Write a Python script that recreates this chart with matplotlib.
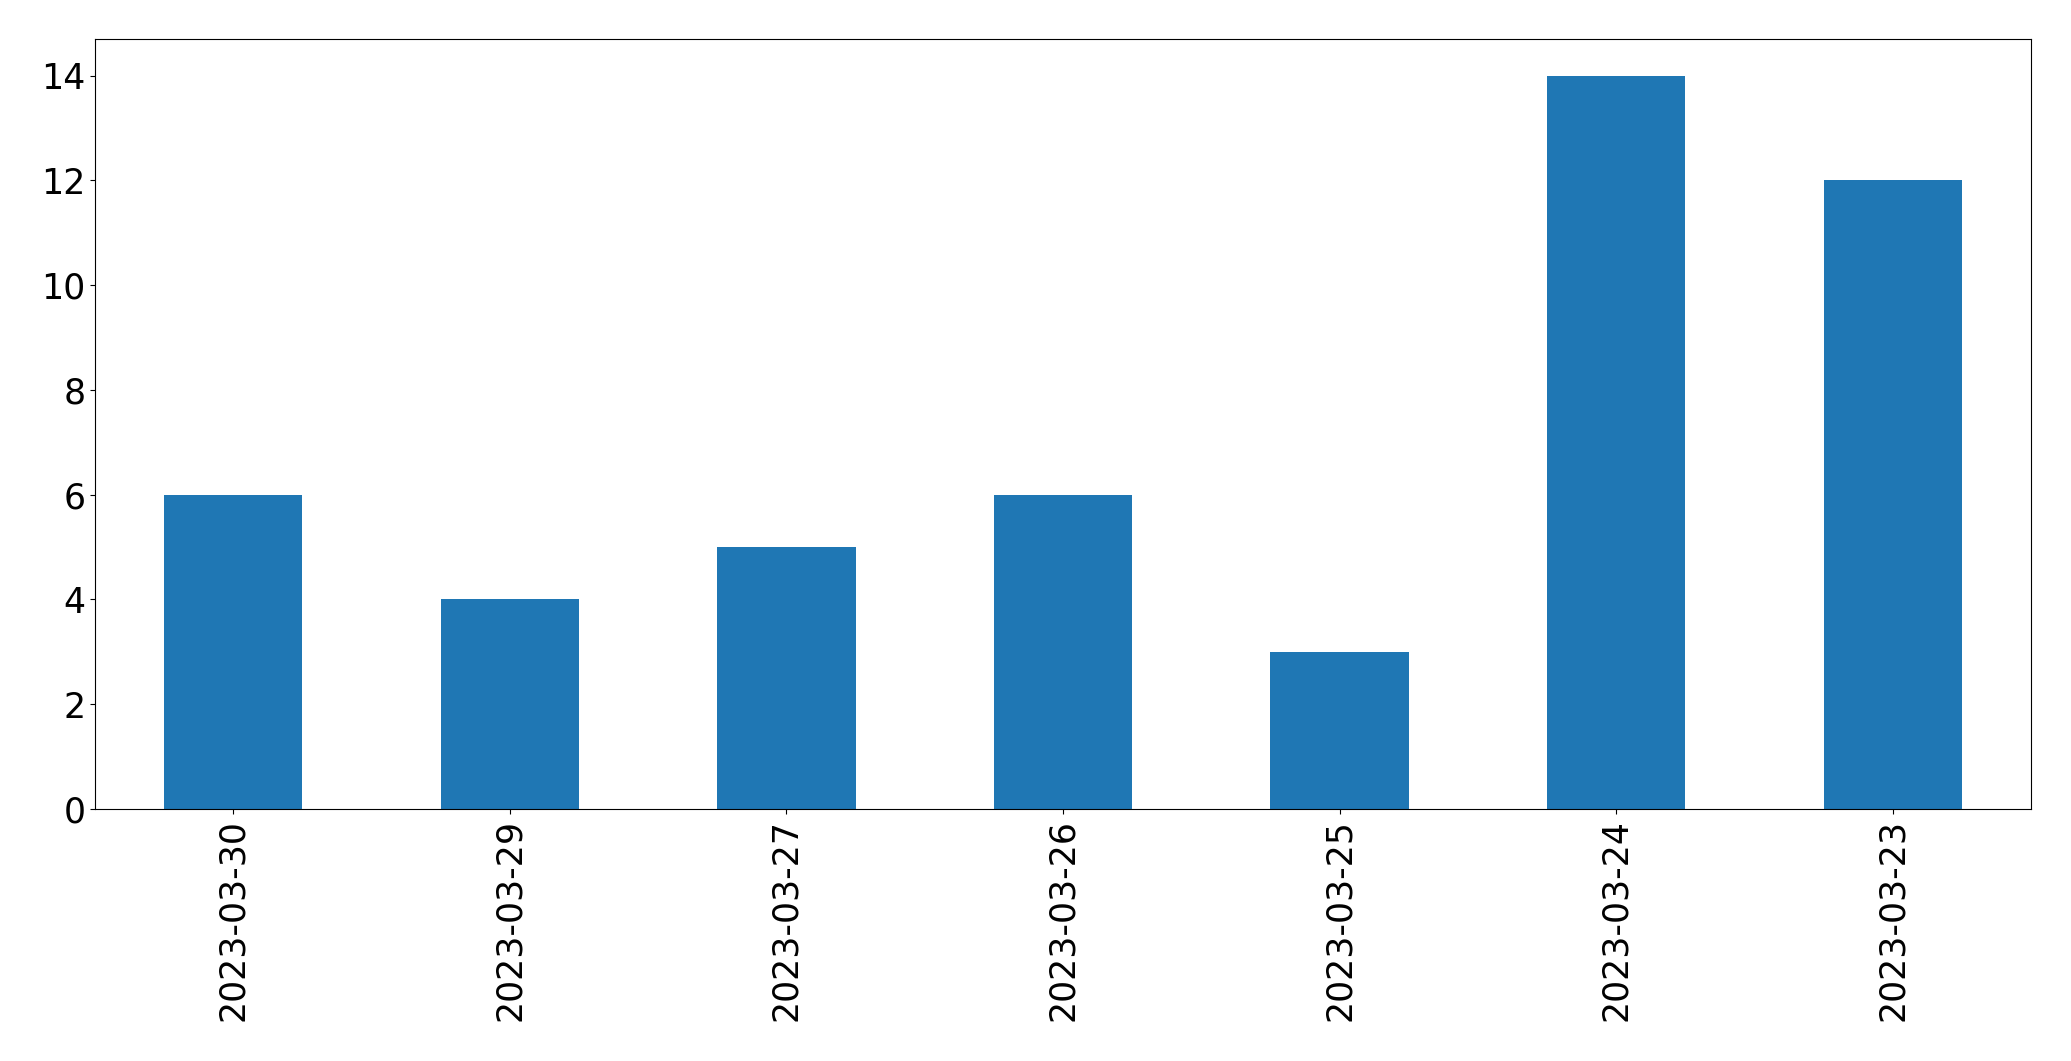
import matplotlib
matplotlib.use("Agg")
from matplotlib import pyplot as plt
import pandas as pd

dates = ['2023-03-30', '2023-03-29', '2023-03-27', '2023-03-26',
         '2023-03-25', '2023-03-24', '2023-03-23']
counts = [6, 4, 5, 6, 3, 14, 12]

s = pd.Series(counts, index=dates)

fig = plt.figure(figsize=(20.71, 10.61), dpi=100)
ax = fig.add_axes([95 / 2071, 1 - 809 / 1061, (2031 - 95) / 2071, (809 - 39) / 1061])
s.plot(kind='bar', ax=ax, color='#1f77b4', fontsize=25)
ax.tick_params(axis='x', labelrotation=90)

fig.savefig('out.png', dpi=100)
